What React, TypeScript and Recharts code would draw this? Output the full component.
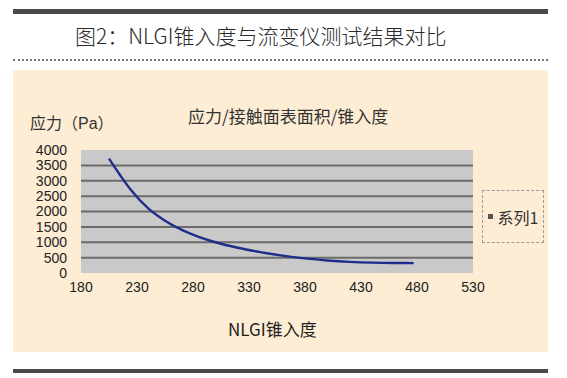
import { LineChart, Line, XAxis, YAxis, CartesianGrid, ReferenceLine } from "recharts";

// NLGI penetration (x) vs stress (Pa)
const penetration = [205, 215, 225, 240, 255, 270, 285, 300, 320, 340, 360, 380, 400, 420, 440, 460, 477];
const stress = [3720, 3180, 2680, 2100, 1700, 1400, 1175, 1000, 820, 680, 565, 475, 408, 362, 336, 325, 322];

const xTicks = [180, 230, 280, 330, 380, 430, 480, 530];
const yTicks = [0, 500, 1000, 1500, 2000, 2500, 3000, 3500, 4000];
const gridLevels = [500, 1000, 1500, 2000, 2500, 3000, 3500];

const data = penetration.map((p, i) => ({ p, stress: stress[i] }));

const font = "'Liberation Sans', Arial, 'Noto Sans CJK SC', sans-serif";
const cjk = "'Noto Sans CJK SC', 'Liberation Sans', sans-serif";

export default function App() {
  return (
    <div style={{ position: "absolute", left: 0, top: 0, width: 567, height: 378, background: "#fff", overflow: "hidden", fontFamily: cjk }}>
      <div style={{ position: "absolute", left: 13, top: 9, width: 535, height: 5, background: "#4a4a4a" }} />
      <div style={{ position: "absolute", left: 75, top: 20, fontSize: 21, lineHeight: "30px", color: "#2a2a2a", whiteSpace: "nowrap", fontWeight: 300 }}>
        图2：NLGI锥入度与流变仪测试结果对比
      </div>
      <div style={{ position: "absolute", left: 13, top: 59, width: 535, borderTop: "2px dotted #777" }} />

      <div style={{ position: "absolute", left: 13, top: 70, width: 535, height: 282, background: "#fdedd4" }}>
        <LineChart width={535} height={282} data={data} margin={{ top: 80, right: 75, bottom: 0, left: 0 }}>
          <CartesianGrid horizontal={false} vertical={false} fill="#c9c9c9" />
          {gridLevels.map((v) => (
            <ReferenceLine key={v} y={v} stroke="#6b6b6b" strokeWidth={2} ifOverflow="visible" />
          ))}
          <XAxis
            dataKey="p"
            type="number"
            domain={[180, 530]}
            ticks={xTicks}
            axisLine={false}
            tickLine={false}
            tickMargin={3}
            height={79}
            tick={{ fontSize: 14, fill: "#222", fontFamily: font }}
          />
          <YAxis
            type="number"
            domain={[0, 4000]}
            ticks={yTicks}
            axisLine={false}
            tickLine={false}
            tickMargin={8}
            width={68}
            interval={0}
            tick={{ fontSize: 14, fill: "#222", fontFamily: font }}
          />
          <Line type="monotone" dataKey="stress" stroke="#1f2c8a" strokeWidth={2.4} dot={false} isAnimationActive={false} />
        </LineChart>

        <div style={{ position: "absolute", left: 17, top: 40, fontSize: 16, color: "#333", whiteSpace: "nowrap" }}>
          应力（<span style={{ fontFamily: font }}>Pa</span>）
        </div>
        <div style={{ position: "absolute", left: 175, top: 33, fontSize: 17, color: "#333", whiteSpace: "nowrap" }}>
          应力/接触面表面积/锥入度
        </div>
        <div style={{ position: "absolute", left: 215, top: 246, fontSize: 17, color: "#222", whiteSpace: "nowrap" }}>
          NLGI锥入度
        </div>
        <div
          style={{
            position: "absolute",
            left: 469,
            top: 120,
            width: 60,
            height: 51,
            border: "1px dashed #9a9a9a",
            display: "flex",
            alignItems: "center",
            justifyContent: "center",
            fontSize: 16,
            color: "#333",
          }}
        >
          <span style={{ display: "inline-block", width: 5, height: 5, background: "#555", marginRight: 5 }} />
          系列1
        </div>
      </div>

      <div style={{ position: "absolute", left: 13, top: 369, width: 535, height: 4, background: "#4a4a4a" }} />
    </div>
  );
}
